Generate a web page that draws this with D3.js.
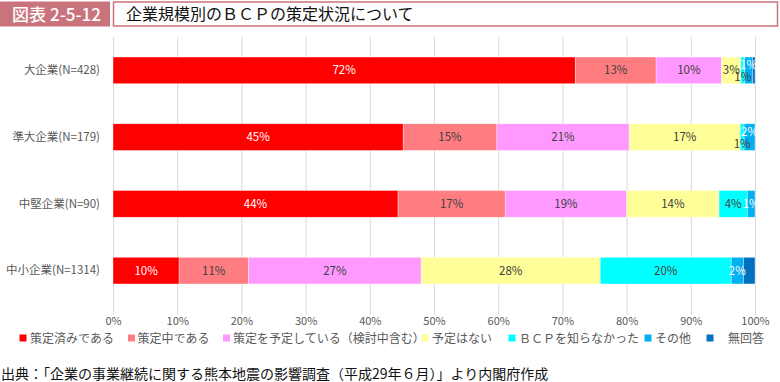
<!DOCTYPE html>
<html><head><meta charset="utf-8">
<script src="https://cdn.jsdelivr.net/npm/d3@7"></script>
<style>
html,body{margin:0;padding:0;background:#fff;}
svg{display:block;font-family:"Noto Sans CJK JP","Noto Sans",sans-serif;}
</style></head>
<body><svg id="c" width="780" height="382"></svg>
<script>
const categories = ["大企業(N=428)", "準大企業(N=179)", "中堅企業(N=90)", "中小企業(N=1314)"];
const seriesNames = ["策定済みである", "策定中である", "策定を予定している（検討中含む）", "予定はない", "ＢＣＰを知らなかった", "その他", "無回答"];
const colors = ["#FF0000", "#FF7C80", "#FF99FF", "#FFFF99", "#00FFFF", "#00B0F0", "#0070C0"];
const labelColors = ["#ffffff", "#404040", "#404040", "#404040", "#404040", "#ffffff", null];
// values in % per category, series order as seriesNames
const s1 = [72.0, 45.2, 44.4, 10.3];
const s2 = [12.6, 14.6, 16.7, 10.8];
const s3 = [10.2, 20.6, 18.9, 26.9];
const s4 = [3.0, 17.3, 14.4, 27.9];
const s5 = [0.6, 0.6, 4.4, 20.4];
const s6 = [1.2, 1.7, 1.2, 1.9];
const s7 = [0.4, 0.0, 0.0, 1.8];
const seriesValues = [s1, s2, s3, s4, s5, s6, s7];
const ticks = [0, 10, 20, 30, 40, 50, 60, 70, 80, 90, 100];
const title = "企業規模別のＢＣＰの策定状況について";
const figLabel = "図表";
const figNo = "2-5-12";
const source = "出典：「企業の事業継続に関する熊本地震の影響調査（平成29年６月）」より内閣府作成";

const svg = d3.select("#c");
const pink = "#C9737C";

// title bar
svg.append("rect").attr("x", 0).attr("y", 1.5).attr("width", 110).attr("height", 25).attr("fill", pink);
const ft = svg.append("text").attr("x", 12).attr("y", 20.5).attr("fill", "#fff").attr("font-size", 17).attr("font-weight", 500);
ft.append("tspan").text(figLabel);
ft.append("tspan").attr("dx", 4).text(figNo);
svg.append("rect").attr("x", 113.5).attr("y", 2).attr("width", 664).attr("height", 24).attr("fill", "#fff").attr("stroke", pink).attr("stroke-width", 1.5);
svg.append("text").attr("x", 126).attr("y", 20).attr("fill", "#111").attr("font-size", 16).text(title);

const x = d3.scaleLinear().domain([0, 100]).range([113, 755]);
const y = d3.scaleBand().domain(categories).range([37, 304]).paddingInner(0.6).paddingOuter(0.3);

// gridlines
svg.append("g").selectAll("line").data(ticks).join("line")
  .attr("x1", d => x(d) + 0.5).attr("x2", d => x(d) + 0.5)
  .attr("y1", 37).attr("y2", 315)
  .attr("stroke", "#D9D9D9").attr("stroke-width", 1);

// axis labels
const ax = d3.axisBottom(x).tickValues(ticks).tickFormat(d => d + "%").tickSize(0).tickPadding(0);
const axg = svg.append("g").attr("transform", "translate(0,317)").call(ax);
axg.select(".domain").remove();
axg.selectAll("text").attr("font-size", 11).attr("fill", "#595959").attr("font-family", "'Noto Sans CJK JP',sans-serif");

// category labels
const yAxis = d3.axisLeft(y).tickSize(0).tickPadding(0);
const yg = svg.append("g").attr("transform", "translate(100,0)").call(yAxis);
yg.select(".domain").remove();
yg.selectAll("text").attr("font-size", 11.5).attr("fill", "#595959").attr("font-family", "'Noto Sans CJK JP',sans-serif");

// stacked bars
const rows = categories.map((c, i) => {
  let acc = 0;
  return seriesValues.map((arr, k) => {
    const v = arr[i];
    const seg = {cat: c, k: k, v: v, x0: acc, x1: acc + v};
    acc += v;
    return seg;
  });
});
const segs = rows.flat().filter(d => d.v > 0);
svg.append("g").selectAll("rect").data(segs).join("rect")
  .attr("x", d => x(d.x0)).attr("width", d => x(d.x1) - x(d.x0))
  .attr("y", d => y(d.cat)).attr("height", y.bandwidth())
  .attr("fill", d => colors[d.k]).attr("stroke", "#fff").attr("stroke-width", 0.6).attr("stroke-opacity", 0.6);

// labels
rows.forEach(row => {
  const cyan = row[4], blue = row[5];
  const crowded = cyan.v < 2.5 && blue.v < 2.5 && cyan.v > 0 && blue.v > 0;
  row.forEach(d => {
    if (d.v <= 0 || labelColors[d.k] === null) return;
    let dy = 0;
    if (crowded && d.k === 4) dy = 6.5;
    if (crowded && d.k === 5) dy = -5;
    svg.append("text")
      .attr("x", (x(d.x0) + x(d.x1)) / 2)
      .attr("y", y(d.cat) + y.bandwidth() / 2 + 4 + dy)
      .attr("text-anchor", "middle")
      .attr("font-size", 11.5)
      .attr("fill", labelColors[d.k])
      .text(Math.round(d.v) + "%");
  });
});

// legend
const legendX = [23, 131.5, 226.5, 425, 512, 648, 710];
const legendTextX = [30, 137.5, 233, 432, 519, 655, 728];
const lg = svg.append("g");
seriesNames.forEach((n, i) => {
  lg.append("rect").attr("x", legendX[i] - 3.5).attr("y", 334.5).attr("width", 7).attr("height", 7).attr("fill", colors[i]);
  lg.append("text").attr("x", legendTextX[i]).attr("y", 342.5).attr("font-size", 12).attr("fill", "#595959").text(n);
});

// source
svg.append("text").attr("x", 1).attr("y", 378.5).attr("font-size", 14).attr("fill", "#111").text(source);
</script></body></html>
